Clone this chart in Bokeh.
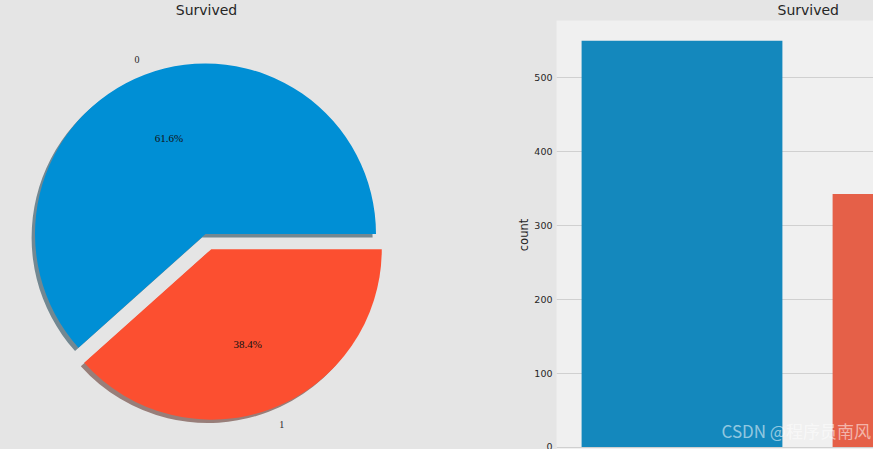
import numpy as np
from bokeh.embed import file_html
from bokeh.resources import INLINE
from bokeh.layouts import row
from bokeh.models import ColumnDataSource, Label, Range1d
from bokeh.plotting import figure

categories = ["0", "1"]
survived_counts = [549, 342]
pie_colors = ["#008fd5", "#fc4f30"]
shadow_colors = ["#728892", "#987e79"]
bar_colors = ["#1488bd", "#e56048"]
y_ticks = [0, 100, 200, 300, 400, 500]
title_text = "Survived"
y_label = "count"
watermark = "CSDN @程序员南风"

BG = "#e5e5e5"
FONT = "DejaVu Sans"
TXT = "#262626"
INK = "#111111"

# ---- pie ----
PX = 170.5  # pixels per unit radius
PCX, PCY = 205.0, 233.5
counts = np.array(survived_counts, dtype=float)
fracs = counts / counts.sum()
edges = np.concatenate([[0.0], np.cumsum(fracs)]) * 2 * np.pi
starts, ends = edges[:-1], edges[1:]
mids = (starts + ends) / 2
explode = np.array([0.0, 0.095])
cx = explode * np.cos(mids)
cy = explode * np.sin(mids)

pie = figure(width=500, height=449, output_backend="svg", toolbar_location=None,
             x_range=Range1d(-PCX / PX, (412 - PCX) / PX),
             y_range=Range1d(-(449 - PCY) / PX, (PCY - 20) / PX),
             min_border_left=0, min_border_right=88, min_border_top=20, min_border_bottom=0,
             title=title_text, styles={"background-color": BG})
pie.axis.visible = False
pie.grid.visible = False
pie.outline_line_color = None
pie.background_fill_color = None
pie.border_fill_color = None
pie.title.align = "center"
pie.title.vertical_align = "top"
pie.title.text_font = FONT
pie.title.text_font_size = "14px"
pie.title.text_font_style = "normal"
pie.title.text_color = TXT
pie.title.standoff = 2

src = ColumnDataSource(dict(x=cx, y=cy, sx=cx - 0.02, sy=cy - 0.02, start=starts, end=ends,
                            color=pie_colors, shadow=shadow_colors))
pie.wedge(x="sx", y="sy", radius=1, start_angle="start", end_angle="end", source=src,
          fill_color="shadow", line_color=None)
pie.wedge(x="x", y="y", radius=1, start_angle="start", end_angle="end", source=src,
          fill_color="color", line_color=None)

pie.text(x=cx + 1.1 * np.cos(mids), y=cy + 1.1 * np.sin(mids), text=categories,
         text_align=["right", "left"], text_baseline="middle", text_font=FONT,
         text_font_size="10px", text_color=TXT, x_offset=1, y_offset=0.5)
pct = [f"{f * 100:.1f}%" for f in fracs]
pie.text(x=cx + 0.6 * np.cos(mids), y=cy + 0.6 * np.sin(mids), text=pct,
         text_align="center", text_baseline="middle", text_font=FONT,
         text_font_size="11px", text_color=INK, y_offset=-0.5)

# ---- bars ----
UX = 251.0
UY = 0.74
x0 = 681.5 - 500 - 56  # frame pixel of category 0
bars = figure(width=373, height=449, output_backend="svg", toolbar_location=None,
              x_range=Range1d(-x0 / UX, (317 - x0) / UX),
              y_range=Range1d(-(449 - 446.5) / UY, (446.5 - 20) / UY),
              min_border_left=56, min_border_right=0, min_border_top=20, min_border_bottom=0,
              title=title_text, styles={"background-color": BG})
bars.background_fill_color = "#f0f0f0"
bars.border_fill_color = None
bars.outline_line_color = None
bars.title.align = "left"
bars.title.vertical_align = "top"
bars.title.offset = 221
bars.title.text_font = FONT
bars.title.text_font_size = "14px"
bars.title.text_font_style = "normal"
bars.title.text_color = TXT
bars.title.standoff = 2

bars.vbar(x=np.arange(len(categories)), top=survived_counts, bottom=0, width=0.8,
          fill_color=bar_colors, line_color=None)
bars.xaxis.visible = False
bars.xgrid.visible = False
bars.ygrid.grid_line_color = "#d0d0d0"
bars.ygrid.grid_line_width = 1
bars.ygrid.ticker = y_ticks
yax = bars.yaxis[0]
yax.ticker = y_ticks
yax.axis_line_color = None
yax.major_tick_line_color = None
yax.minor_tick_line_color = None
yax.major_tick_out = 0
yax.major_tick_in = 0
yax.major_label_text_font = FONT
yax.major_label_text_font_size = "9.5px"
yax.major_label_text_color = TXT
yax.major_label_standoff = 4
yax.axis_label = y_label
yax.axis_label_text_font = FONT
yax.axis_label_text_font_size = "11.5px"
yax.axis_label_text_font_style = "normal"
yax.axis_label_text_color = TXT
yax.axis_label_standoff = 0

bars.add_layout(Label(x=165, y=7, x_units="screen", y_units="screen", text=watermark,
                      text_font="Noto Sans CJK SC", text_font_size="17px",
                      text_color="#ffffff", text_alpha=0.55))

p = row(pie, bars, spacing=0, styles={"background-color": BG})
open("out.html", "w").write(file_html(p, INLINE))
